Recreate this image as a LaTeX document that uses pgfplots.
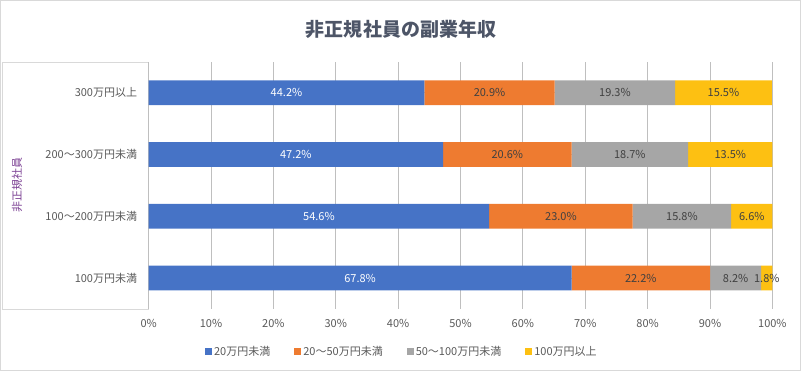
\documentclass[border=0pt]{standalone}
\usepackage{fontspec}
\setmainfont{Noto Sans CJK JP}
\usepackage{pgfplots}
\pgfplotsset{compat=1.18}
\usepackage{pgfplotstable}

\definecolor{cblue}{HTML}{4673C6}
\definecolor{corange}{HTML}{EE7B30}
\definecolor{cgray}{HTML}{A6A6A6}
\definecolor{cgold}{HTML}{FDC012}
\definecolor{lbl}{HTML}{404040}
\definecolor{tick}{HTML}{595959}
\definecolor{ttl}{HTML}{4D5567}
\definecolor{grid}{HTML}{D9D9D9}
\definecolor{ylab}{HTML}{7A3E92}

\pgfplotstableread{
cat a b c d
0 67.8 22.2 8.2 1.8
1 54.6 23.0 15.8 6.6
2 47.2 20.6 18.7 13.5
3 44.2 20.9 19.3 15.5
}\datatable

\pgfplotsset{
  frame/.style={at={(148.7pt,62pt)}, anchor=south west,
    scale only axis, width=623.6pt, height=247pt,
    xmin=0, xmax=100, ymin=-0.5, ymax=3.5, clip=false},
  lbls/.style={only marks, mark=*, mark size=0pt, mark options={draw=none, fill=none},
    point meta=explicit symbolic, nodes near coords={\pgfplotspointmeta\%},
    every node near coord/.append style={anchor=center, font=\fontsize{11}{13}\selectfont, text=#1}},
}

\begin{document}
\begin{tikzpicture}
\draw[grid, line width=0.8pt] (0.5pt,0.5pt) rectangle (800.5pt,370.5pt);
\draw[grid, line width=0.8pt] (2pt,62pt) rectangle (148.7pt,309pt);
\begin{axis}[
  frame,
  xbar stacked, bar width=24.7pt,
  xtick={0,10,...,100},
  xticklabels={0\%,10\%,20\%,30\%,40\%,50\%,60\%,70\%,80\%,90\%,100\%},
  ytick={0,1,2,3},
  yticklabels={100万円未満,100～200万円未満,200～300万円未満,300万円以上},
  /pgf/number format/assume math mode=true,
  axis line style={draw=none},
  major tick length=0pt,
  xmajorgrids, grid style={grid, line width=0.8pt},
  ticklabel style={font=\fontsize{11}{13}\selectfont, text=tick},
  yticklabel style={xshift=-8pt},
  xticklabel style={yshift=-7pt},
  ylabel={非正規社員},
  ylabel style={at={(axis description cs:-0.211,0.5)}, anchor=center, font=\fontsize{11}{13}\selectfont, text=ylab},
  title={\bfseries 非正規社員の副業年収},
  title style={at={(axis description cs:0.4046,1.109)}, anchor=center, font=\fontsize{19}{22}\selectfont, text=ttl},
  legend style={draw=none, fill=none, legend columns=4,
    at={(axis description cs:0.406,-0.172)}, anchor=center,
    font=\fontsize{11}{13}\selectfont, text=tick,
    /tikz/every even column/.append style={column sep=22pt},
    nodes={inner sep=2pt}},
  legend image code/.code={\fill[#1,draw=none] (0pt,-3.5pt) rectangle (7pt,3.5pt);},
]
\addplot[fill=cblue, draw=none] table[x=a, y=cat] {\datatable};
\addplot[fill=corange, draw=none] table[x=b, y=cat] {\datatable};
\addplot[fill=cgray, draw=none] table[x=c, y=cat] {\datatable};
\addplot[fill=cgold, draw=none] table[x=d, y=cat] {\datatable};
\legend{20万円未満,20～50万円未満,50～100万円未満,100万円以上}
\end{axis}
\begin{axis}[frame, axis lines=none, xtick=\empty, ytick=\empty]
\addplot[lbls=white] table[x expr=\thisrow{a}/2, y=cat, meta=a] {\datatable};
\addplot[lbls=lbl] table[x expr=\thisrow{a}+\thisrow{b}/2, y=cat, meta=b] {\datatable};
\addplot[lbls=lbl] table[x expr=\thisrow{a}+\thisrow{b}+\thisrow{c}/2, y=cat, meta=c] {\datatable};
\addplot[lbls=lbl] table[x expr=\thisrow{a}+\thisrow{b}+\thisrow{c}+\thisrow{d}/2, y=cat, meta=d] {\datatable};
\end{axis}
\end{tikzpicture}
\end{document}
